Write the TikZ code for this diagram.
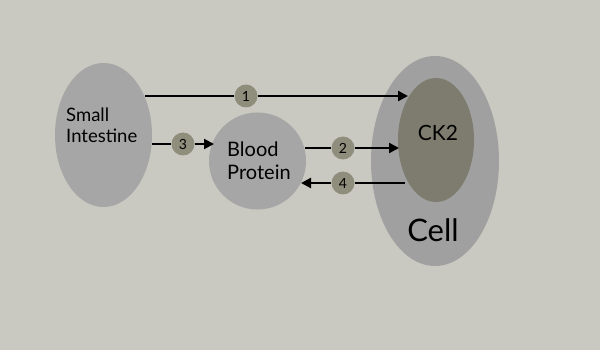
\documentclass[tikz,border=0pt]{standalone}
\usepackage{fontspec}
\setmainfont{Lato}
\usetikzlibrary{shapes.geometric,arrows.meta}
\definecolor{bg}{HTML}{C9C9C1}
\definecolor{organ}{HTML}{A6A6A6}
\definecolor{cellc}{HTML}{A0A0A0}
\definecolor{ckc}{HTML}{7D7C6E}
\definecolor{numc}{HTML}{8F8E7D}
\begin{document}
\begin{tikzpicture}[x=1pt,y=-1pt,
  organ/.style={ellipse,fill=organ,draw=none,inner sep=0pt},
  numdot/.style={circle,fill=numc,draw=none,minimum size=23pt,inner sep=0pt,font=\fontsize{14}{14}\selectfont},
  conn/.style={line width=2.2pt,-{Triangle[length=10pt,width=10pt]}},
  plain/.style={line width=2.2pt}]
\fill[bg] (0,0) rectangle (600,350);
\useasboundingbox (0,0) rectangle (600,350);
% small intestine
\node[organ,minimum width=97pt,minimum height=144pt] (si) at (103.5,135) {};
\node[anchor=west,align=left,font=\fontsize{18.5}{21}\selectfont,inner sep=0pt] (sit) at (66,125) {Small\\Intestine};
% blood protein
\node[circle,fill=organ,minimum size=97pt,inner sep=0pt] (bp) at (257.5,161) {};
\node[anchor=west,align=left,font=\fontsize{20}{23}\selectfont,inner sep=0pt] (bpt) at (227,161) {Blood\\Protein};
% cell
\node[ellipse,fill=cellc,minimum width=128pt,minimum height=210pt,inner sep=0pt] (cell) at (435,161) {};
\node[ellipse,fill=ckc,minimum width=76pt,minimum height=124pt,inner sep=0pt] (ck) at (436,140) {};
\node[font=\fontsize{21}{21}\selectfont,inner sep=0pt] (ckt) at (438,133) {CK2};
\node[font=\fontsize{31}{31}\selectfont,inner sep=0pt] (cellt) at (433,230) {Cell};
% coordinates
\coordinate (a1s) at (145,96);
\coordinate (a1e) at (408,96);
\coordinate (a3s) at (152,144);
\coordinate (a3e) at (214,144);
\coordinate (a2s) at (305,148);
\coordinate (a2e) at (399,148);
\coordinate (a4s) at (405,183);
\coordinate (a4e) at (301,183);
% number dots
\node[numdot] (n1) at (246,96) {1};
\node[numdot] (n3) at (183,144) {3};
\node[numdot] (n2) at (343,148) {2};
\node[numdot] (n4) at (343,183) {4};
% connectors
\draw[plain] (a1s) -- (n1);
\draw[conn] (n1) -- (a1e);
\draw[plain] (a3s) -- (n3);
\draw[conn] (n3) -- (a3e);
\draw[plain] (a2s) -- (n2);
\draw[conn] (n2) -- (a2e);
\draw[plain] (a4s) -- (n4);
\draw[conn] (n4) -- (a4e);
\end{tikzpicture}
\end{document}
